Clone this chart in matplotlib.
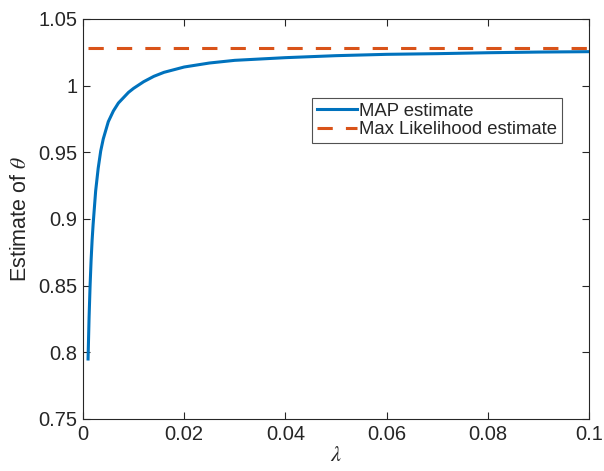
import matplotlib
matplotlib.use("Agg")
import matplotlib.pyplot as plt

plt.rcParams['font.family'] = ['Liberation Sans', 'DejaVu Sans']
plt.rcParams['mathtext.fontset'] = 'stix'

lam = [0.001, 0.0012, 0.0014, 0.0016, 0.0018, 0.002, 0.0025, 0.003, 0.0035,
       0.004, 0.005, 0.006, 0.007, 0.008, 0.009, 0.010, 0.012, 0.014, 0.016,
       0.018, 0.020, 0.025, 0.030, 0.035, 0.040, 0.050, 0.060, 0.070, 0.080,
       0.090, 0.100]
map_est = [0.795, 0.826, 0.850, 0.869, 0.884, 0.896, 0.921, 0.938, 0.951,
           0.960, 0.973, 0.981, 0.987, 0.991, 0.995, 0.998, 1.003, 1.007, 1.010,
           1.012, 1.014, 1.017, 1.019, 1.020, 1.021, 1.0225, 1.0235, 1.024, 1.0247,
           1.0252, 1.0255]
ml_est = 1.0285

xticks = [0, 0.02, 0.04, 0.06, 0.08, 0.1]
xticklabels = ['0', '0.02', '0.04', '0.06', '0.08', '0.1']
yticks = [0.75, 0.8, 0.85, 0.9, 0.95, 1.0, 1.05]
yticklabels = ['0.75', '0.8', '0.85', '0.9', '0.95', '1', '1.05']

fig = plt.figure(figsize=(6.04, 4.71), dpi=100)
ax = fig.add_axes([83/604, 52/471, 506/604, 400/471])

ax.plot(lam, map_est, color='#0072BD', lw=2.2, label='MAP estimate')
ax.plot([lam[0], lam[-1]], [ml_est, ml_est], color='#D95319', lw=2.2,
        dashes=(5, 4.3), label='Max Likelihood estimate')

ax.set_xlim(0, 0.1)
ax.set_ylim(0.75, 1.05)
ax.set_xticks(xticks)
ax.set_xticklabels(xticklabels)
ax.set_yticks(yticks)
ax.set_yticklabels(yticklabels)
ax.tick_params(direction='in', length=5, width=0.8, top=True, right=True,
               labelsize=14.5, colors='#262626', labelcolor='#262626', pad=4)
for s in ax.spines.values():
    s.set_color('#262626')
    s.set_linewidth(0.8)

ax.set_xlabel(r'$\lambda$', fontsize=16, color='#262626', labelpad=1)
ax.set_ylabel(r'Estimate of $\theta$', fontsize=15.5, color='#262626', labelpad=5)

leg = ax.legend(loc='upper left', bbox_to_anchor=(312/604, 1 - 98/471),
                bbox_transform=fig.transFigure, fontsize=13.3, frameon=True,
                fancybox=False, handlelength=2.2, handletextpad=0.1,
                borderpad=0.25, labelspacing=0.1, borderaxespad=0)
leg.get_frame().set_edgecolor('#262626')
leg.get_frame().set_linewidth(0.8)
for t in leg.get_texts():
    t.set_color('#262626')

fig.savefig('out.png', dpi=100)
